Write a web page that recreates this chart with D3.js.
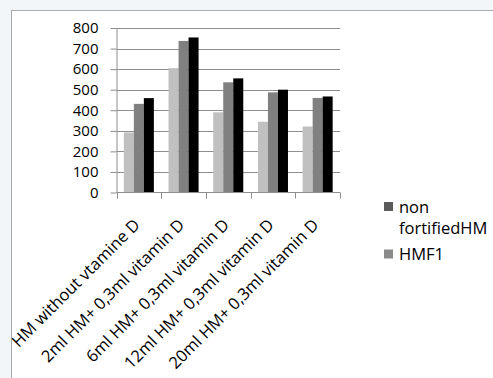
<!DOCTYPE html>
<html>
<head>
<meta charset="utf-8">
<script src="https://cdn.jsdelivr.net/npm/d3@7"></script>
<style>
html,body{margin:0;padding:0;background:#f2f6f9;}
svg{display:block;}
text{font-family:"Open Sans",Lato,sans-serif;fill:#000;}
</style>
</head>
<body>
<svg id="chart" width="493" height="378"></svg>
<script>
const categories = ["HM without vtamine D","2ml HM+ 0,3ml vitamin D","6ml HM+ 0,3ml vitamin D","12ml HM+ 0,3ml vitamin D","20ml HM+ 0,3ml vitamin D"];
const seriesNames = ["series1","series2","series3"];
const series1 = [292, 605, 390, 344, 321];
const series2 = [431, 737, 536, 487, 460];
const series3 = [459, 754, 555, 500, 467];
const seriesColors = ["#c0c0c0","#808080","#000000"];
const yTicks = [0,100,200,300,400,500,600,700,800];
const legendNames = [["non","fortifiedHM"],["HMF1"]];
const legendColors = ["#5b5b5b","#8a8a8a"];

const FS = 16.5, FSY = 15;
const svg = d3.select("#chart");
svg.append("rect").attr("width",493).attr("height",378).attr("fill","#f2f6f9");
svg.append("rect").attr("x",11.5).attr("y",10.5).attr("width",500).attr("height",400)
  .attr("fill","#fff").attr("stroke","#a9a9a9").attr("stroke-width",1);

const x0 = 116.5, x1 = 340, yBottom = 192.5, yTop = 28;
const y = d3.scaleLinear().domain([0,800]).range([yBottom,yTop]);
const x = d3.scaleBand().domain(categories).range([x0,x1]).padding(0);
const xs = d3.scaleBand().domain(seriesNames).range([x.bandwidth()*0.164, x.bandwidth()*0.836]).padding(0);

// gridlines
svg.append("g").selectAll("line").data(yTicks.filter(d=>d>0)).join("line")
  .attr("x1",x0).attr("x2",x1).attr("y1",d=>Math.round(y(d))+0.5).attr("y2",d=>Math.round(y(d))+0.5)
  .attr("stroke","#8e8e8e").attr("stroke-width",1);

// bars
const data = [series1,series2,series3];
const g = svg.append("g");
categories.forEach((c,i)=>{
  seriesNames.forEach((s,j)=>{
    g.append("rect")
      .attr("x", x(c)+xs(s))
      .attr("y", y(data[j][i]))
      .attr("width", xs.bandwidth())
      .attr("height", yBottom - y(data[j][i]))
      .attr("fill", seriesColors[j]);
  });
});

// y axis
const yAxis = d3.axisLeft(y).tickValues(yTicks).tickSize(6).tickPadding(12).tickSizeOuter(0);
const ya = svg.append("g").attr("transform",`translate(${x0},0)`).call(yAxis);
ya.select(".domain").attr("stroke","#8e8e8e");
ya.selectAll(".tick line").attr("stroke","#8e8e8e");
ya.selectAll(".tick text").attr("font-size",FSY).attr("font-family","'Open Sans',Lato,sans-serif").attr("fill","#000");

// x axis line and ticks at boundaries
svg.append("line").attr("x1",x0).attr("x2",x1).attr("y1",yBottom).attr("y2",yBottom).attr("stroke","#8e8e8e");
const bounds = categories.map(c=>x(c)).concat([x1]);
svg.append("g").selectAll("line").data(bounds).join("line")
  .attr("x1",d=>Math.round(d)+0.5).attr("x2",d=>Math.round(d)+0.5)
  .attr("y1",yBottom).attr("y2",yBottom+6).attr("stroke","#8e8e8e");

// x labels
svg.append("g").selectAll("text").data(categories).join("text")
  .attr("transform",d=>`translate(${x(d)+x.bandwidth()/2+2},226) rotate(-45)`)
  .attr("text-anchor","end").attr("font-size",FS).text(d=>d);

// legend
const lg = svg.append("g");
const lgY = [202, 249.5];
const lgText = [[212.5,234],[259.5]];
legendNames.forEach((lines,i)=>{
  lg.append("rect").attr("x",384).attr("y",lgY[i]).attr("width",9).attr("height",9).attr("fill",legendColors[i]);
  lines.forEach((t,k)=>{
    lg.append("text").attr("x",399).attr("y",lgText[i][k]).attr("font-size",FS).text(t);
  });
});
</script>
</body>
</html>
